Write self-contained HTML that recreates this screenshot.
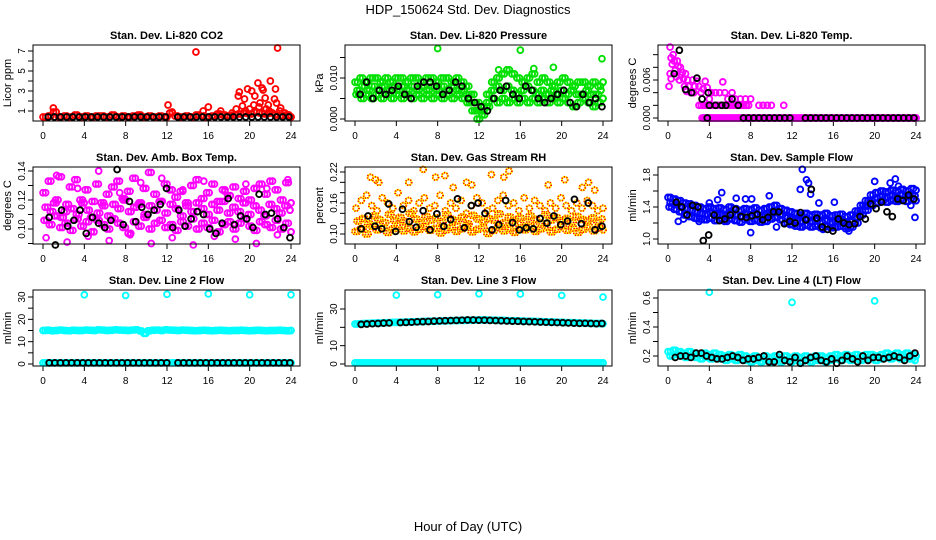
<!DOCTYPE html>
<html><head><meta charset="utf-8">
<style>
body{margin:0;background:#fff;}
svg{display:block;font-family:"Liberation Sans",sans-serif;}
</style></head>
<body>
<svg id="chart" width="936" height="540" viewBox="0 0 936 540" xmlns="http://www.w3.org/2000/svg">
<rect width="936" height="540" fill="#fff"/>
<text x="468" y="14" text-anchor="middle" font-size="13">HDP_150624  Std. Dev. Diagnostics</text>
<text x="468" y="531" text-anchor="middle" font-size="13">Hour of Day (UTC)</text>
</svg>
<script>
// ---------- data ----------
const xTicks = [0,4,8,12,16,20,24];
const titles = ["Stan. Dev. Li-820 CO2","Stan. Dev. Li-820 Pressure","Stan. Dev. Li-820 Temp.","Stan. Dev. Amb. Box Temp.","Stan. Dev. Gas Stream RH","Stan. Dev. Sample Flow","Stan. Dev. Line 2 Flow","Stan. Dev. Line 3 Flow","Stan. Dev. Line 4 (LT) Flow"];
const yTitles = ["Licor ppm","kPa","degrees C","degrees C","percent","ml/min","ml/min","ml/min","ml/min"];
const yTicks = [[1,2,3,4,5,6,7],[0,0.005,0.010,0.015],[0,0.002,0.004,0.006,0.008,0.010],[0.09,0.10,0.11,0.12,0.13,0.14],[0.10,0.12,0.14,0.16,0.18,0.20,0.22],[1.0,1.2,1.4,1.6,1.8],[0,5,10,15,20,25,30],[0,10,20,30],[0.2,0.3,0.4,0.5,0.6]];
const yLabels = [["1","","3","","5","","7"],["0.000","","0.010",""],["0.000","","","0.006","",""],["","0.10","","0.12","","0.14"],["0.10","","","0.16","","","0.22"],["1.0","","1.4","","1.8"],["0","","10","","20","","30"],["0","10","","30"],["0.2","","0.4","","0.6"]];

function spread(n,a,b){const r=[];for(let i=0;i<n;i++)r.push(a+(b-a)*i/(n-1));return r;}

// CO2
const co2Base = [0.4,0.5,0.9,0.4,0.5,0.4,0.6,0.4,0.5,0.4,0.5,0.5,0.4,0.6,0.4,0.5,0.4,0.5,0.6,0.4,0.5,0.4,0.5,0.4,0.8,0.5,0.4,0.5,0.4,0.6,0.5,0.4,0.5,0.7,0.6,0.5,0.6,0.7,0.8,0.7,0.9,0.8,0.7,0.8,0.6,0.5,0.6,0.4];
const co2HiHours = [1,12.1,12.5,14.8,15.5,16,17.2,18.3,18.7,19,18.9,19.3,19.5,19.8,20.2,20.5,20.8,21,21.2,21.3,21.5,21.8,22,22.4,22.5,22.6,22.7,23,23.4,20,20.4,21.6,22.9,19.6,21.9,20.9,23.8];
const co2HiVals = [1.3,1.6,0.9,6.9,1.0,1.4,1.0,0.8,1.2,2.9,2.5,1.5,2.2,3.2,3.0,2.5,3.8,1.8,3.3,3.1,2.3,1.6,4.0,2.2,3.2,1.8,7.3,1.3,0.8,1.2,1.6,1.2,1.0,1.0,1.0,1.4,0.6];
const co2Black = [0.4,0.4,0.4,0.4,0.4,0.4,0.4,0.4,0.4,0.4,0.4,0.4,0.4,0.4,0.4,0.4,0.4,0.4,0.4,0.4,0.4,0.4,0.4,0.4,0.4,0.4,0.4,0.4,0.4,0.4,0.4,0.4,0.4,0.4,0.4,0.4,0.4,0.4,0.4,0.4];
const co2BlackHours = spread(40,0.5,23.8).filter(h=>h<12||h>13);

// Pressure
const presUpper = [0.009,0.010,0.009,0.010,0.010,0.009,0.010,0.009,0.010,0.010,0.009,0.010,0.010,0.009,0.010,0.010,0.009,0.010,0.010,0.009,0.010,0.009,0.008,0.006,0.004,0.003,0.006,0.009,0.010,0.011,0.012,0.011,0.010,0.009,0.010,0.011,0.009,0.010,0.009,0.008,0.009,0.010,0.009,0.008,0.009,0.009,0.008,0.009,0.008,0.009];
const presMid = [0.007,0.008,0.007,0.008,0.007,0.008,0.007,0.008,0.007,0.008,0.007,0.008,0.007,0.008,0.007,0.008,0.007,0.008,0.007,0.008,0.007,0.007,0.006,0.004,0.002,0.002,0.004,0.007,0.008,0.007,0.008,0.007,0.006,0.007,0.008,0.007,0.006,0.007,0.006,0.007,0.006,0.007,0.006,0.007,0.006,0.006,0.007,0.006,0.006,0.007];
const presLower = [0.006,0.005,0.006,0.005,0.006,0.005,0.006,0.005,0.006,0.005,0.006,0.005,0.006,0.005,0.006,0.005,0.006,0.005,0.006,0.005,0.006,0.005,0.004,0.002,0.000,0.001,0.003,0.005,0.004,0.005,0.004,0.005,0.004,0.005,0.004,0.005,0.004,0.005,0.004,0.005,0.004,0.005,0.004,0.003,0.004,0.005,0.004,0.003,0.004,0.005];
const presOutHours = [8,16,13.9,17.3,19.2,23.9];
const presOutVals = [0.0172,0.0168,0.012,0.0123,0.0126,0.0147];
const presBlack = [0.006,0.009,0.005,0.007,0.006,0.007,0.008,0.006,0.005,0.008,0.009,0.009,0.008,0.006,0.007,0.009,0.008,0.005,0.004,0.003,0.002,0.005,0.007,0.008,0.006,0.005,0.008,0.007,0.005,0.004,0.005,0.006,0.007,0.004,0.003,0.006,0.004,0.005,0.003];

// Li-820 temp
const tmpCloudHours = [0.2,0.3,0.4,0.5,0.6,0.7,0.2,0.3,0.9,1.0,1.2,1.4,1.5,1.1,0.8,1.7,1.9,2.0,2.2,1.8,1.6,2.4,2.6,2.8,3.0,3.2,3.4,2.5,3.6,3.8,4.2,4.6,5.0,5.3,5.5,6.2,6.5,4.0,5.8,7.0,7.5,8.0,0.1,1.3];
const tmpCloudVals = [0.0112,0.0095,0.0085,0.0100,0.0090,0.0075,0.0070,0.0062,0.0090,0.0082,0.0080,0.0072,0.0062,0.0060,0.0065,0.0070,0.0060,0.0050,0.0040,0.0042,0.0050,0.0060,0.0050,0.0058,0.0050,0.0040,0.0046,0.0040,0.0058,0.0048,0.0040,0.0040,0.0040,0.0057,0.0040,0.0040,0.0030,0.0030,0.0030,0.0030,0.0030,0.0030,0.0050,0.0068];
const tmpMidHours = spread(22,3.0,7.8).concat([8.8,9.2,9.6,10,11.2]);
const tmpMidVals = [0.002,0.002,0.002,0.002,0.002,0.002,0.002,0.002,0.002,0.002,0.002,0.002,0.002,0.002,0.002,0.002,0.002,0.002,0.002,0.002,0.002,0.002,0.002,0.002,0.002,0.002,0.002];
const tmpZeroVals = new Array(70).fill(0);
const tmpBlackHours = [1.1,0.6,1.7,2.3,2.8,3.3,3.9,4.0,4.6,5.2,5.6,6.2,6.8,3.8].concat(spread(34,7.3,23.8).filter(h=>h<12||h>13));
const tmpBlackVals = [0.0107,0.0070,0.0045,0.0040,0.0063,0.0030,0.0040,0.0020,0.0020,0.0020,0.0020,0.0030,0.0020,0].concat(new Array(40).fill(0));

// Amb box temp
const amb1 = [0.125,0.133,0.118,0.136,0.112,0.129,0.134,0.120,0.127,0.108,0.131,0.118,0.124,0.129,0.133,0.121,0.126,0.135,0.117,0.128,0.139,0.124,0.119,0.131,0.127,0.122,0.126,0.118,0.130,0.134,0.121,0.125,0.131,0.119,0.127,0.123,0.129,0.121,0.126,0.120,0.128,0.131,0.124,0.133,0.127,0.120,0.132,0.118];
const amb2 = [0.115,0.112,0.120,0.108,0.117,0.114,0.110,0.118,0.113,0.119,0.111,0.116,0.109,0.117,0.114,0.120,0.112,0.115,0.118,0.110,0.116,0.113,0.119,0.111,0.117,0.114,0.109,0.116,0.112,0.118,0.114,0.110,0.117,0.113,0.119,0.111,0.115,0.112,0.118,0.110,0.116,0.113,0.109,0.117,0.114,0.111,0.116,0.113];
const amb3 = [0.106,0.103,0.109,0.101,0.104,0.099,0.107,0.102,0.105,0.098,0.106,0.103,0.100,0.107,0.104,0.101,0.097,0.105,0.102,0.108,0.100,0.104,0.106,0.101,0.103,0.099,0.105,0.102,0.107,0.100,0.104,0.101,0.106,0.098,0.103,0.105,0.100,0.104,0.107,0.102,0.099,0.105,0.103,0.101,0.106,0.100,0.104,0.098];
const amb4 = [0.094,0.137,0.091,0.128,0.095,0.140,0.092,0.125,0.096,0.132,0.090,0.135,0.094,0.127,0.089,0.133,0.095,0.126,0.093,0.131,0.090,0.128,0.096,0.134];
const ambBlack = [0.108,0.089,0.113,0.102,0.106,0.113,0.097,0.108,0.104,0.101,0.106,0.141,0.103,0.119,0.105,0.115,0.110,0.113,0.117,0.128,0.101,0.113,0.102,0.107,0.112,0.110,0.100,0.097,0.104,0.121,0.103,0.109,0.107,0.101,0.124,0.110,0.111,0.107,0.101,0.094];

// RH
const rh1 = [0.105,0.11,0.10,0.115,0.108,0.112,0.103,0.11,0.118,0.106,0.112,0.104,0.109,0.115,0.107,0.111,0.102,0.108,0.113,0.105,0.11,0.116,0.104,0.109,0.112,0.101,0.107,0.114,0.106,0.11,0.103,0.112,0.108,0.115,0.105,0.11,0.113,0.104,0.109,0.116,0.107,0.111,0.103,0.109,0.114,0.106,0.112,0.108];
const rh2 = [0.125,0.13,0.12,0.135,0.128,0.122,0.138,0.126,0.132,0.124,0.14,0.129,0.121,0.134,0.127,0.131,0.123,0.137,0.128,0.125,0.133,0.12,0.136,0.129,0.124,0.13,0.127,0.139,0.122,0.133,0.126,0.131,0.124,0.135,0.128,0.121,0.137,0.127,0.132,0.125,0.13,0.123,0.134,0.128,0.126,0.131,0.124,0.129];
const rh3 = [0.15,0.165,0.175,0.155,0.145,0.17,0.16,0.15,0.18,0.155,0.165,0.145,0.16,0.17,0.15,0.155,0.175,0.145,0.16,0.15,0.165,0.14,0.155,0.17,0.16,0.145,0.15,0.165,0.175,0.155,0.16,0.145,0.17,0.15,0.165,0.155,0.145,0.16,0.15,0.17,0.155,0.145,0.16,0.15,0.165,0.155,0.145,0.15];
const rhOutHours = [1.5,2,2.3,5.2,6.6,7.8,8.7,9.5,10.8,11.3,13.2,14.4,14.9,18.7,20.3,22,22.6,23.2];
const rhOutVals = [0.21,0.205,0.20,0.20,0.225,0.21,0.213,0.19,0.2,0.195,0.215,0.21,0.222,0.195,0.205,0.19,0.2,0.185];
const rhBlack = [0.11,0.135,0.115,0.11,0.158,0.105,0.148,0.124,0.113,0.145,0.108,0.139,0.115,0.128,0.168,0.112,0.155,0.16,0.14,0.108,0.118,0.165,0.122,0.108,0.112,0.11,0.13,0.121,0.135,0.118,0.125,0.167,0.12,0.16,0.108,0.115];

// Sample flow
const flow1 = [1.52,1.50,1.48,1.45,1.44,1.42,1.40,1.38,1.40,1.38,1.39,1.37,1.40,1.38,1.36,1.38,1.37,1.39,1.36,1.38,1.40,1.42,1.38,1.36,1.34,1.32,1.30,1.32,1.30,1.31,1.30,1.32,1.29,1.30,1.31,1.28,1.30,1.35,1.42,1.48,1.55,1.58,1.60,1.59,1.61,1.60,1.62,1.60,1.63,1.61];
const flow2 = [1.45,1.43,1.40,1.38,1.36,1.34,1.32,1.31,1.33,1.31,1.30,1.29,1.32,1.30,1.28,1.31,1.29,1.30,1.28,1.30,1.32,1.33,1.30,1.27,1.25,1.23,1.22,1.24,1.22,1.23,1.21,1.23,1.21,1.22,1.23,1.20,1.22,1.27,1.35,1.41,1.48,1.51,1.53,1.52,1.54,1.53,1.55,1.53,1.56,1.54];
const flow3 = [1.40,1.37,1.34,1.30,1.28,1.26,1.25,1.24,1.26,1.23,1.24,1.22,1.25,1.23,1.21,1.24,1.22,1.23,1.21,1.22,1.25,1.27,1.24,1.20,1.18,1.16,1.15,1.17,1.15,1.16,1.14,1.16,1.14,1.15,1.16,1.13,1.15,1.20,1.30,1.36,1.42,1.45,1.47,1.46,1.48,1.47,1.49,1.47,1.50,1.48];
const flowOutHours = [1,1.5,3,4,4.8,5.2,6.6,7.5,8,8.1,9.8,10.5,12,12.8,13,13.4,13.6,13.8,14.6,15,16.1,17.5,20,21.5,22,22.3,23.5,23.9];
const flowOutVals = [1.22,1.25,1.22,1.45,1.49,1.58,1.51,1.5,1.08,1.5,1.54,1.15,1.18,1.62,1.87,1.74,1.7,1.56,1.45,1.12,1.46,1.1,1.72,1.7,1.75,1.66,1.42,1.27];
const flowBlack = [1.46,1.40,1.30,1.42,1.40,0.98,1.05,1.30,1.23,1.25,1.30,1.37,1.28,1.27,1.29,1.31,1.24,1.27,1.34,1.34,1.19,1.22,1.20,1.33,1.24,1.62,1.26,1.15,1.12,1.10,1.25,1.20,1.18,1.19,1.28,1.25,1.44,1.38,1.46,1.34,1.28,1.50,1.48,1.55,1.50];

// Line 2
const l2High = [15,15.1,14.9,15,15.2,15,14.9,15.1,15,15,15.2,15.1,15,15.3,15.2,15,15.1,15.3,15.2,15.1,15,15.2,15.3,14.8,13.7,14.9,15.1,15.2,15,15.3,15.2,15.1,15,15.2,15.1,15,14.9,15,15.1,15,14.9,15,15.1,15,14.9,15,15,15.1,15,14.9,15,15.1,15,14.9,15,15,15.1,15,14.9,15];
const l2Low = new Array(60).fill(0.5);
const l2Black = new Array(44).fill(0.5);
const l2OutHours = [4,8,12,16,20,24];
const l2OutVals = [31,30.7,31.2,31.4,31,31];

// Line 3
const l3Low = new Array(60).fill(0.6);
const l3High = [21.8,22,22.1,22.2,22.3,22.4,22.4,22.5,22.6,22.7,22.7,22.8,22.9,23,23,23.1,23.2,23.3,23.3,23.4,23.5,23.5,23.6,23.7,23.7,23.8,23.8,23.9,23.9,24,24,24,23.9,23.9,23.8,23.8,23.7,23.6,23.6,23.5,23.4,23.3,23.3,23.2,23.1,23,22.9,22.9,22.8,22.7,22.6,22.6,22.5,22.4,22.4,22.3,22.2,22.1,22.1,22];
const l3Black = [21.6,21.8,22,22.1,22.3,22.4,22.6,22.7,22.8,23,23.1,23.2,23.4,23.5,23.6,23.7,23.8,23.9,24,24,23.9,23.9,23.8,23.7,23.6,23.5,23.4,23.3,23.2,23.1,23,22.9,22.8,22.7,22.6,22.5,22.4,22.3,22.2,22.2,22.1,22,22.1,22.2];
const l3OutHours = [4,8,12,16,20,24];
const l3OutVals = [37.6,37.8,38.3,38.2,37.4,36.5];

// Line 4
const l4a = [0.23,0.24,0.23,0.22,0.23,0.22,0.21,0.22,0.21,0.22,0.21,0.2,0.21,0.2,0.21,0.2,0.19,0.2,0.19,0.2,0.19,0.2,0.19,0.2,0.19,0.2,0.19,0.2,0.19,0.2,0.2,0.19,0.2,0.21,0.2,0.21,0.2,0.21,0.2,0.21,0.21,0.2,0.21,0.22,0.21,0.22,0.21,0.22,0.21,0.2];
const l4b = [0.2,0.21,0.2,0.19,0.2,0.19,0.18,0.19,0.18,0.19,0.18,0.17,0.18,0.17,0.18,0.17,0.16,0.17,0.16,0.17,0.16,0.17,0.16,0.17,0.16,0.17,0.16,0.17,0.16,0.17,0.17,0.16,0.17,0.18,0.17,0.18,0.17,0.18,0.17,0.18,0.18,0.17,0.18,0.19,0.18,0.19,0.18,0.19,0.18,0.17];
const l4Black = [0.19,0.2,0.2,0.19,0.22,0.22,0.2,0.19,0.18,0.18,0.19,0.2,0.19,0.17,0.18,0.18,0.19,0.2,0.16,0.16,0.21,0.17,0.16,0.19,0.15,0.17,0.19,0.2,0.17,0.16,0.18,0.15,0.17,0.2,0.18,0.16,0.2,0.17,0.19,0.19,0.18,0.19,0.2,0.19,0.17,0.2,0.22];
const l4OutHours = [4,12,20];
const l4OutVals = [0.64,0.57,0.58];

// ---------- layout ----------
const NS = "http://www.w3.org/2000/svg";
const svg = document.getElementById('chart');
const cols = [33,345,658];
const rows = [[45,121],[167,244],[290,366]];
const yRefs = [[1,111,7,51],[0,119,0.010,78],[0,118,0.006,80],[0.10,229,0.14,171],[0.10,234,0.22,172],[1.0,239,1.8,175],[0,364,30,297],[0,364,30,309],[0.2,356,0.6,298]];
const panels = [];
for (let i=0;i<9;i++){
  const L = cols[i%3], R = L+267, T = rows[Math.floor(i/3)][0], B = rows[Math.floor(i/3)][1];
  const yr = yRefs[i];
  panels.push({L,R,T,B,
    x:h=>L+10+h*248/24,
    y:v=>yr[1]+(v-yr[0])*(yr[3]-yr[1])/(yr[2]-yr[0])});
}
function mk(tag, attrs, parent){const e=document.createElementNS(NS,tag);for(const k in attrs)e.setAttribute(k,attrs[k]);(parent||svg).appendChild(e);return e;}

panels.forEach((p,i)=>{
  const g = mk('g',{});
  
  
  const t = mk('text',{x:(p.L+p.R)/2,y:p.T-6,'text-anchor':'middle','font-size':'11','font-weight':'bold'},g);
  t.textContent = titles[i];
  
  
  const yt = mk('text',{x:0,y:0,'text-anchor':'middle','font-size':'11',transform:`translate(${p.L-22},${(p.T+p.B)/2}) rotate(-90)`},g);
  yt.textContent = yTitles[i];
  
  
  xTicks.forEach(h=>{
    const X=p.x(h);
    const tk = mk('line',{x1:X,x2:X,y1:p.B,y2:p.B+5,stroke:'#000','stroke-width':1},g);
    
    
    const lb = mk('text',{x:X,y:p.B+18,'text-anchor':'middle','font-size':'10'},g);
    lb.textContent = h;
    
    
  });
  yTicks[i].forEach((v,j)=>{
    const Y=p.y(v);
    const tk = mk('line',{x1:p.L-5,x2:p.L,y1:Y,y2:Y,stroke:'#000','stroke-width':1},g);
    
    
    if (yLabels[i][j]){
      const lb = mk('text',{x:0,y:0,'text-anchor':'middle','font-size':'10',transform:`translate(${p.L-8},${Y}) rotate(-90)`},g);
      lb.textContent = yLabels[i][j];
      
      
    }
  });
  p.g = mk('g',{},g);
  
  
  const box = mk('rect',{x:p.L,y:p.T,width:p.R-p.L,height:p.B-p.T,fill:'none',stroke:'#000','stroke-width':1},g);
  
  
});

function dots(pi, hours, vals, color, dashColor){
  const p = panels[pi];
  for (let k=0;k<vals.length && k<hours.length;k++){
    const c = mk('circle',{cx:p.x(hours[k]),cy:p.y(vals[k]),r:2.9,fill:'none',stroke:color,'stroke-width':1.9},p.g);
    
    
    if (dashColor){
      const d = mk('circle',{cx:p.x(hours[k]),cy:p.y(vals[k]),r:2.9,fill:'none',stroke:dashColor,'stroke-width':1.9,'stroke-dasharray':'1 1.5'},p.g);
      
      
    }
  }
}
// dense band: each value drawn at its hour plus an adjacent half-interval sample
function band(pi, vals, a, b, color, dashColor){
  const hrs = spread(vals.length, a, b);
  const step = (b-a)/(vals.length-1);
  dots(pi, hrs, vals, color, dashColor);
  dots(pi, hrs.map(h=>Math.min(b,h+step/2)), vals, color, dashColor);
}

const RED='#ff0000', GRN='#00e000', MAG='#ff00ff', BLU='#0000ff', CYA='#00ffff', BLK='#000000', YEL='#ffff00';
// CO2
band(0, co2Base, 0, 24, RED);
dots(0, co2HiHours, co2HiVals, RED);
dots(0, co2BlackHours, co2Black, BLK);
// Pressure
band(1, presUpper, 0, 24, GRN);
band(1, presMid, 0.2, 23.8, GRN);
band(1, presLower, 0.1, 24, GRN);
dots(1, presOutHours, presOutVals, GRN);
dots(1, spread(presBlack.length,0.5,23.9), presBlack, BLK);
// Temp
dots(2, tmpCloudHours, tmpCloudVals, MAG);
dots(2, tmpMidHours, tmpMidVals, MAG);
band(2, tmpZeroVals, 3.3, 24, MAG);
dots(2, tmpBlackHours, tmpBlackVals, BLK);
// Amb
band(3, amb1, 0, 24, MAG);
band(3, amb2, 0.2, 23.9, MAG);
band(3, amb3, 0.1, 24, MAG);
dots(3, spread(amb4.length,0.3,23.7), amb4, MAG);
dots(3, spread(ambBlack.length,0.6,23.9), ambBlack, BLK);
// RH
band(4, rh1, 0, 24, YEL, RED);
band(4, rh2, 0.2, 23.9, YEL, RED);
dots(4, spread(rh3.length,0.1,24), rh3, YEL, RED);
dots(4, rhOutHours, rhOutVals, YEL, RED);
dots(4, spread(rhBlack.length,0.6,23.9), rhBlack, BLK);
// Sample flow
band(5, flow1, 0, 24, BLU);
band(5, flow2, 0.2, 23.9, BLU);
band(5, flow3, 0.1, 24, BLU);
dots(5, flowOutHours, flowOutVals, BLU);
dots(5, spread(flowBlack.length,0.8,23.8), flowBlack, BLK);
// Line 2
band(6, l2High, 0, 24, CYA);
band(6, l2Low, 0, 24, CYA);
dots(6, l2OutHours, l2OutVals, CYA);
dots(6, spread(l2Black.length,0.6,23.9).filter(h=>h<12||h>13), l2Black, BLK);
// Line 3
band(7, l3Low, 0, 24, CYA);
band(7, l3High, 0, 24, CYA);
dots(7, l3OutHours, l3OutVals, CYA);
dots(7, spread(l3Black.length,0.6,23.9).filter(h=>h<3.5||h>3.9), l3Black, BLK);
// Line 4
band(8, l4a, 0, 24, CYA);
band(8, l4b, 0.2, 23.9, CYA);
dots(8, l4OutHours, l4OutVals, CYA);
dots(8, spread(l4Black.length,0.7,23.9), l4Black, BLK);
</script>
</body></html>
